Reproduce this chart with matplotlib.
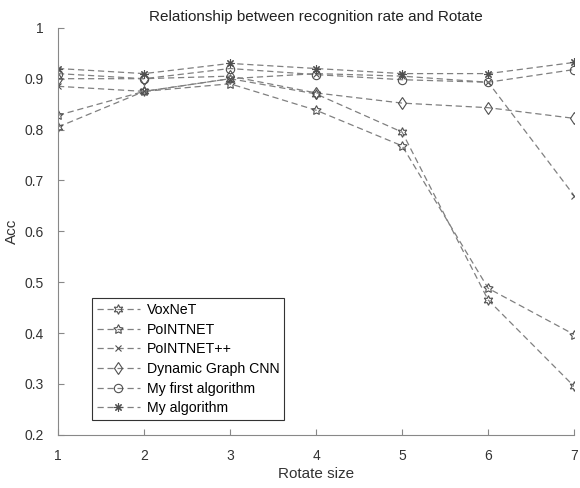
import matplotlib
matplotlib.use("Agg")
import matplotlib.pyplot as plt

plt.rcParams['font.family'] = ['Liberation Sans', 'DejaVu Sans']

rotate = [1, 2, 3, 4, 5, 6, 7]
voxnet = [0.805, 0.875, 0.900, 0.870, 0.795, 0.465, 0.295]
pointnet = [0.828, 0.875, 0.890, 0.838, 0.768, 0.488, 0.397]
pointnet_pp = [0.885, 0.875, 0.900, 0.910, 0.905, 0.893, 0.670]
dgcnn = [0.900, 0.900, 0.905, 0.872, 0.852, 0.843, 0.822]
my_first = [0.910, 0.900, 0.920, 0.908, 0.898, 0.893, 0.918]
my_alg = [0.920, 0.910, 0.930, 0.920, 0.910, 0.910, 0.932]

labels = ["VoxNeT", "PoINTNET", "PoINTNET++", "Dynamic Graph CNN",
          "My first algorithm", "My algorithm"]
series = [voxnet, pointnet, pointnet_pp, dgcnn, my_first, my_alg]
markers = [(6, 1, 0), (5, 1, 0), "x", "d", "o", (8, 2, 0)]
sizes = [7, 7, 4.5, 6, 6, 6]

fig = plt.figure(figsize=(5.8, 4.88), dpi=100)
ax = fig.add_axes([0.1, 0.109, 0.89, 0.834])

for vals, lab, m, s in zip(series, labels, markers, sizes):
    ax.plot(rotate, vals, linestyle=(0, (5, 3)), color="#808080", linewidth=0.9,
            marker=m, markersize=s, markerfacecolor="none",
            markeredgecolor="#505050", markeredgewidth=0.8, label=lab)

ax.set_xlim(1, 7)
ax.set_ylim(0.2, 1)
ax.set_xticks(rotate)
ax.set_yticks([0.2, 0.3, 0.4, 0.5, 0.6, 0.7, 0.8, 0.9, 1])
ax.set_yticklabels(["0.2", "0.3", "0.4", "0.5", "0.6", "0.7", "0.8", "0.9", "1"])
ax.spines['top'].set_visible(False)
ax.spines['right'].set_visible(False)
for sp in ['left', 'bottom']:
    ax.spines[sp].set_color("#888888")
    ax.spines[sp].set_linewidth(0.8)
ax.tick_params(direction="in", length=4, color="#888888", labelcolor="#333333",
               labelsize=10, pad=10)

ax.set_xlabel("Rotate size", fontsize=11, color="#333333", labelpad=3)
ax.set_ylabel("Acc", fontsize=11, color="#333333")
ax.set_title("Relationship between recognition rate and Rotate", fontsize=11,
             color="#222222", pad=5)

leg = ax.legend(loc="lower left", bbox_to_anchor=(0.066, 0.036), fontsize=10.2,
                fancybox=False, framealpha=1, edgecolor="#333333",
                handlelength=3.0, borderpad=0.35, labelspacing=0.4,
                handletextpad=0.5, borderaxespad=0)
leg.get_frame().set_linewidth(0.8)

fig.savefig("out.png", dpi=100)
